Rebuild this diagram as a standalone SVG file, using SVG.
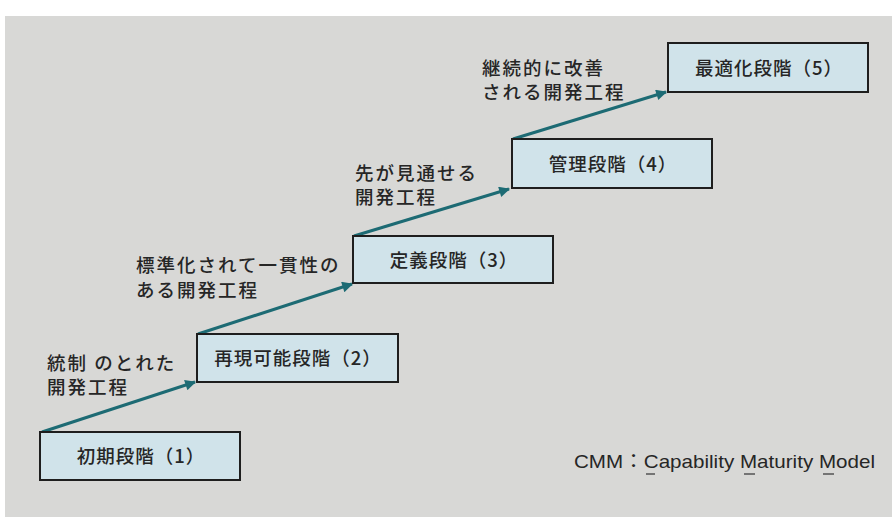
<svg xmlns="http://www.w3.org/2000/svg" width="892" height="517" viewBox="0 0 892 517">
  <style>
    .box { fill: #d0e3ea; stroke: #1e1e1e; stroke-width: 2; }
    .nlabel { font-family: "Noto Sans CJK JP", sans-serif; font-size: 18.5px; font-weight: 500; letter-spacing: 1px; fill: #262626; text-anchor: middle; }
    .elabel { font-family: "Noto Sans CJK JP", sans-serif; font-size: 18.5px; font-weight: 500; letter-spacing: 2px; fill: #262626; }
    .arrow { stroke: #1d6b74; stroke-width: 3; fill: none; marker-end: url(#head); }
    .note { font-family: "Liberation Sans", Arial, "Noto Sans CJK JP", sans-serif; font-size: 19px; fill: #262626; }
    .ul { stroke: #333; stroke-width: 1.2; }
  </style>
  <defs>
    <marker id="head" viewBox="0 0 10 10" refX="9" refY="5" markerWidth="5.5" markerHeight="3.6" orient="auto" markerUnits="strokeWidth">
      <path d="M0,0 L10,5 L0,10 z" fill="#1d6b74"/>
    </marker>
  </defs>

  <rect x="0" y="0" width="892" height="517" fill="#ffffff"/>
  <rect x="5" y="16" width="887" height="501" fill="#d8d8d6"/>

  <g id="connectors">
    <line class="arrow" x1="42" y1="432" x2="195" y2="382"/>
    <line class="arrow" x1="198" y1="334" x2="352" y2="284"/>
    <line class="arrow" x1="354" y1="236" x2="509" y2="189"/>
    <line class="arrow" x1="513" y1="139" x2="666" y2="92"/>
  </g>

  <g id="stage1">
    <rect class="box" x="40" y="432" width="200" height="48"/>
    <text class="nlabel" x="141" y="463">初期段階（1）</text>
  </g>
  <g id="stage2">
    <rect class="box" x="197" y="334" width="201" height="48"/>
    <text class="nlabel" x="298" y="365">再現可能段階（2）</text>
  </g>
  <g id="stage3">
    <rect class="box" x="353" y="236" width="200" height="47"/>
    <text class="nlabel" x="454" y="266.5">定義段階（3）</text>
  </g>
  <g id="stage4">
    <rect class="box" x="512" y="139" width="200" height="49"/>
    <text class="nlabel" x="613" y="170.5">管理段階（4）</text>
  </g>
  <g id="stage5">
    <rect class="box" x="668" y="43" width="200" height="49"/>
    <text class="nlabel" x="769" y="74.5">最適化段階（5）</text>
  </g>

  <g id="edge-labels">
    <text class="elabel" x="47" y="369.5">統制 のとれた</text>
    <text class="elabel" x="47" y="393.5">開発工程</text>
    <text class="elabel" x="136" y="272">標準化されて一貫性の</text>
    <text class="elabel" x="136" y="296.5">ある開発工程</text>
    <text class="elabel" x="355" y="179.5">先が見通せる</text>
    <text class="elabel" x="355" y="204">開発工程</text>
    <text class="elabel" x="482" y="74.5">継続的に改善</text>
    <text class="elabel" x="482" y="98.5">される開発工程</text>
  </g>

  <g id="note">
    <text class="note" x="574" y="468" textLength="301" lengthAdjust="spacingAndGlyphs">CMM：Capability Maturity Model</text>
    <line class="ul" x1="646" y1="474" x2="655" y2="474"/>
    <line class="ul" x1="744" y1="474" x2="755" y2="474"/>
    <line class="ul" x1="823" y1="474" x2="834" y2="474"/>
  </g>
</svg>
